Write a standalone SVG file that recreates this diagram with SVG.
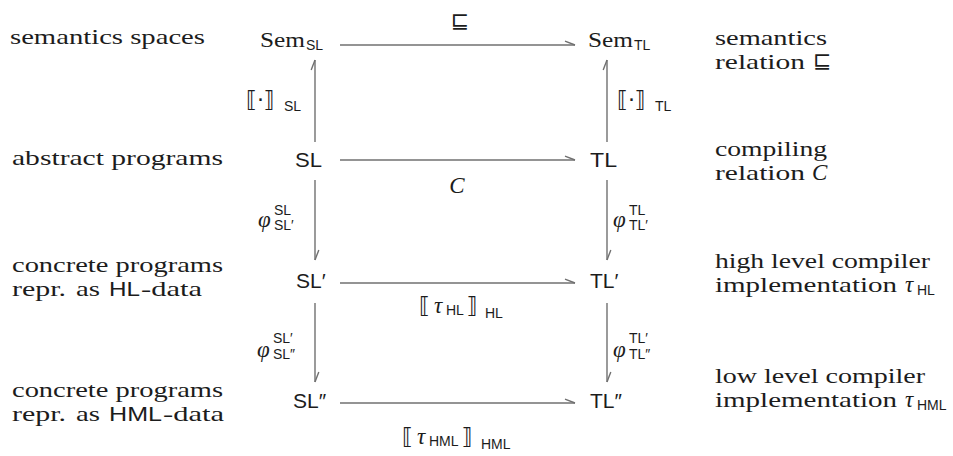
<svg xmlns="http://www.w3.org/2000/svg" width="953" height="456" viewBox="0 0 953 456">
<style>
.rm{font-family:"Liberation Serif","DejaVu Serif",serif;font-size:21.5px;fill:#1c1c1c}
.it{font-family:"Liberation Serif","DejaVu Serif",serif;font-size:23px;font-style:italic;fill:#1c1c1c}
.sf{font-family:"Liberation Sans","DejaVu Sans",sans-serif;font-size:21px;fill:#1c1c1c}
.sub{font-family:"Liberation Sans","DejaVu Sans",sans-serif;font-size:14px;fill:#1c1c1c}
.sym{font-family:"DejaVu Sans",sans-serif;font-size:22px;fill:#1c1c1c}
.arr{stroke:#707070;stroke-width:1.4;fill:none;marker-end:url(#head)}
</style>
<defs>
<marker id="head" markerUnits="userSpaceOnUse" markerWidth="14" markerHeight="10" viewBox="-12 -5 14 10" refX="0" refY="0" orient="auto">
<path d="M-10,-3.8 L0,0" stroke="#707070" stroke-width="1.4" fill="none"/>
</marker>
</defs>
<rect width="953" height="456" fill="#ffffff"/>

<g id="left-labels">
<text class="rm" x="10" y="44" textLength="195" lengthAdjust="spacingAndGlyphs">semantics spaces</text>
<text class="rm" x="12" y="165" textLength="211" lengthAdjust="spacingAndGlyphs">abstract programs</text>
<text class="rm" x="12" y="272" textLength="211" lengthAdjust="spacingAndGlyphs">concrete programs</text>
<text class="rm" x="12" y="296" textLength="54" lengthAdjust="spacingAndGlyphs">repr.</text>
<text class="rm" x="76" y="296" textLength="24" lengthAdjust="spacingAndGlyphs">as</text>
<text class="sf" x="109" y="296" textLength="31" lengthAdjust="spacingAndGlyphs">HL</text>
<text class="rm" x="141" y="296" textLength="61" lengthAdjust="spacingAndGlyphs">-data</text>
<text class="rm" x="12" y="397" textLength="211" lengthAdjust="spacingAndGlyphs">concrete programs</text>
<text class="rm" x="12" y="421" textLength="54" lengthAdjust="spacingAndGlyphs">repr.</text>
<text class="rm" x="76" y="421" textLength="24" lengthAdjust="spacingAndGlyphs">as</text>
<text class="sf" x="109" y="421" textLength="53" lengthAdjust="spacingAndGlyphs">HML</text>
<text class="rm" x="163" y="421" textLength="61" lengthAdjust="spacingAndGlyphs">-data</text>
</g>

<g id="right-labels">
<text class="rm" x="715" y="45" textLength="112" lengthAdjust="spacingAndGlyphs">semantics</text>
<text class="rm" x="715" y="69" textLength="90" lengthAdjust="spacingAndGlyphs">relation</text>
<text class="sym" x="813" y="68">⊑</text>
<text class="rm" x="715" y="156" textLength="112" lengthAdjust="spacingAndGlyphs">compiling</text>
<text class="rm" x="715" y="180" textLength="90" lengthAdjust="spacingAndGlyphs">relation</text>
<text class="it" x="812" y="180">C</text>
<text class="rm" x="715" y="268" textLength="215" lengthAdjust="spacingAndGlyphs">high level compiler</text>
<text class="rm" x="715" y="292" textLength="182" lengthAdjust="spacingAndGlyphs">implementation</text>
<text class="it" x="905" y="292">τ</text>
<text class="sub" x="917" y="295">HL</text>
<text class="rm" x="715" y="383" textLength="210" lengthAdjust="spacingAndGlyphs">low level compiler</text>
<text class="rm" x="715" y="407" textLength="182" lengthAdjust="spacingAndGlyphs">implementation</text>
<text class="it" x="905" y="407">τ</text>
<text class="sub" x="917" y="410">HML</text>
</g>

<g id="node-sem-sl"><text class="rm" x="260" y="47" textLength="45" lengthAdjust="spacingAndGlyphs">Sem</text><text class="sub" x="306" y="50">SL</text></g>
<g id="node-sem-tl"><text class="rm" x="588" y="47" textLength="45" lengthAdjust="spacingAndGlyphs">Sem</text><text class="sub" x="634" y="50">TL</text></g>
<g id="node-sl"><text class="sf" x="295" y="167" textLength="27" lengthAdjust="spacingAndGlyphs">SL</text></g>
<g id="node-tl"><text class="sf" x="590" y="167" textLength="27" lengthAdjust="spacingAndGlyphs">TL</text></g>
<g id="node-sl1"><text class="sf" x="296" y="288">SL′</text></g>
<g id="node-tl1"><text class="sf" x="590" y="288">TL′</text></g>
<g id="node-sl2"><text class="sf" x="293" y="408">SL″</text></g>
<g id="node-tl2"><text class="sf" x="590" y="408">TL″</text></g>

<g id="connectors">
<line class="arr" x1="340" y1="45" x2="575" y2="45"/>
<line class="arr" x1="340" y1="160" x2="575" y2="160"/>
<line class="arr" x1="340" y1="283" x2="575" y2="283"/>
<line class="arr" x1="340" y1="403" x2="575" y2="403"/>
<line class="arr" x1="315" y1="142" x2="315" y2="60"/>
<line class="arr" x1="607" y1="142" x2="607" y2="60"/>
<line class="arr" x1="315" y1="180" x2="315" y2="260"/>
<line class="arr" x1="607" y1="180" x2="607" y2="260"/>
<line class="arr" x1="315" y1="303" x2="315" y2="382"/>
<line class="arr" x1="607" y1="303" x2="607" y2="382"/>
</g>

<g id="edge-labels">
<text class="sym" x="460" y="28" text-anchor="middle">⊑</text>
<text class="it" x="457" y="193" text-anchor="middle">C</text>
<text class="sym" x="246" y="107">⟦·⟧</text><text class="sub" x="284" y="111">SL</text>
<text class="sym" x="617" y="107">⟦·⟧</text><text class="sub" x="655" y="111">TL</text>
<text class="it" x="258" y="227">φ</text>
<text class="sub" x="274" y="215">SL</text>
<text class="sub" x="274" y="230">SL′</text>
<text class="it" x="613" y="227">φ</text>
<text class="sub" x="629" y="215">TL</text>
<text class="sub" x="629" y="230">TL′</text>
<text class="it" x="257" y="357">φ</text>
<text class="sub" x="273" y="343">SL′</text>
<text class="sub" x="273" y="359">SL″</text>
<text class="it" x="613" y="357">φ</text>
<text class="sub" x="629" y="343">TL′</text>
<text class="sub" x="629" y="359">TL″</text>
<text class="sym" x="419" y="313">⟦</text><text class="it" x="434" y="313">τ</text><text class="sub" x="446" y="315">HL</text><text class="sym" x="467" y="313">⟧</text><text class="sub" x="485" y="318">HL</text>
<text class="sym" x="402" y="444">⟦</text><text class="it" x="417" y="444">τ</text><text class="sub" x="429" y="446">HML</text><text class="sym" x="462" y="444">⟧</text><text class="sub" x="481" y="449">HML</text>
</g>
</svg>
